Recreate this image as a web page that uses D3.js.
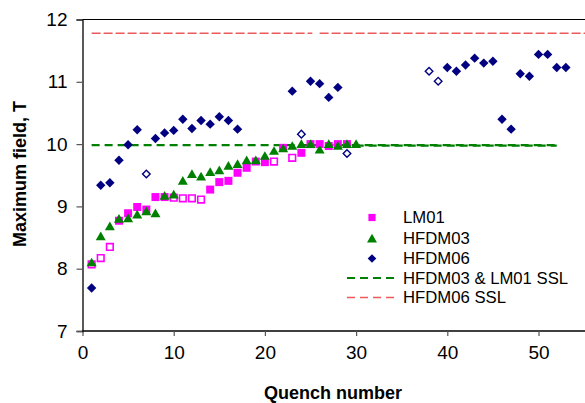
<!DOCTYPE html>
<html><head><meta charset="utf-8">
<script src="https://cdn.jsdelivr.net/npm/d3@7"></script>
<style>
html,body{margin:0;padding:0;background:#fff;}
svg{display:block;font-family:"Liberation Sans",Arial,sans-serif;}
</style></head>
<body>
<svg id="c" width="585" height="403"></svg>
<script>
// ---- data ----
const xTicks = [0, 10, 20, 30, 40, 50];
const yTicks = [7, 8, 9, 10, 11, 12];

const lm01Quench = [1,2,3,4,5,6,7,8,9,10,11,12,13,14,15,16,17,18,19,20,21,22,23,24,25,26,27,28,29];
const lm01Field  = [8.07,8.17,8.35,8.77,8.89,8.99,8.95,9.15,9.15,9.14,9.13,9.13,9.11,9.27,9.39,9.41,9.54,9.62,9.72,9.71,9.72,9.94,9.78,9.86,10.0,10.0,9.97,10.0,10.0];
const lm01Open   = [1,2,3,10,11,12,13,21,23];

const hfdm03Quench = [1,2,3,4,5,6,7,8,9,10,11,12,13,14,15,16,17,18,19,20,21,22,23,24,25,26,27,28,29,30];
const hfdm03Field  = [8.10,8.52,8.68,8.80,8.81,8.87,8.92,8.89,9.17,9.19,9.41,9.52,9.48,9.55,9.58,9.65,9.68,9.74,9.74,9.81,9.89,9.93,9.97,10.0,10.0,9.91,10.0,9.97,10.0,10.0];

const hfdm06Quench = [1,2,3,4,5,6,7,8,9,10,11,12,13,14,15,16,17,23,24,25,26,27,28,29,38,39,40,41,42,43,44,45,46,47,48,49,50,51,52,53];
const hfdm06Field  = [7.69,9.34,9.38,9.74,9.99,10.23,9.52,10.09,10.18,10.22,10.40,10.25,10.38,10.32,10.44,10.38,10.24,10.85,10.16,11.01,10.97,10.75,10.91,9.85,11.17,11.01,11.23,11.17,11.27,11.38,11.30,11.33,10.40,10.24,11.13,11.09,11.44,11.44,11.23,11.23];
const hfdm06Open   = [7,24,29,38,39];

// short sample limits (start, end quench, field)
const sslGreenSegments = [[1, 52, 9.985], [29.3, 52, 9.975]];
const sslRedSegments   = [[1, 25.2, 11.78], [26, 60, 11.78]];

const legendLabels = ["LM01", "HFDM03", "HFDM06", "HFDM03 & LM01 SSL", "HFDM06 SSL"];

// ---- chart ----
const svg = d3.select("#c");
const x = d3.scaleLinear().domain([0, 55]).range([82.5, 584.1]);
const y = d3.scaleLinear().domain([7, 12]).range([331, 19.5]);

const MAG = "#ff00ff", GRN = "#008000", NAVY = "#000080", RED = "#ee5a5a";

// top border
svg.append("line").attr("x1", x(0)).attr("x2", 585).attr("y1", y(12)).attr("y2", y(12))
  .attr("stroke", "#000").attr("stroke-width", 1.2);

// SSL lines
const line = d3.line().x(d => x(d[0])).y(d => y(d[1]));
sslRedSegments.forEach(s => {
  svg.append("path").attr("d", line([[s[0], s[2]], [s[1], s[2]]]))
    .attr("stroke", RED).attr("stroke-width", 1.5).attr("fill", "none").attr("stroke-dasharray", "9,3");
});
sslGreenSegments.forEach((s, i) => {
  svg.append("path").attr("d", line([[s[0], s[2]], [s[1], s[2]]]))
    .attr("stroke", GRN).attr("stroke-width", 2.2).attr("fill", "none")
    .attr("stroke-dasharray", "8,5").attr("stroke-dashoffset", i * 7);
});

// marker shapes
const sq = r => `M${-r},${-r}H${r}V${r}H${-r}Z`;
const tri = () => `M0,-4.8L5,3.9L-5,3.9Z`;
const dia = r => `M0,${-r}L${r},0L0,${r}L${-r},0Z`;

// LM01
lm01Quench.forEach((q, i) => {
  const open = lm01Open.includes(q);
  svg.append("path").attr("d", open ? sq(3.3) : sq(4))
    .attr("transform", `translate(${x(q)},${y(lm01Field[i])})`)
    .attr("fill", open ? "#fff" : MAG).attr("stroke", open ? MAG : "none").attr("stroke-width", 1.6);
});
// HFDM03
hfdm03Quench.forEach((q, i) => {
  svg.append("path").attr("d", tri())
    .attr("transform", `translate(${x(q)},${y(hfdm03Field[i])})`)
    .attr("fill", GRN);
});
// HFDM06
hfdm06Quench.forEach((q, i) => {
  const open = hfdm06Open.includes(q);
  svg.append("path").attr("d", open ? dia(3.8) : dia(4.7))
    .attr("transform", `translate(${x(q)},${y(hfdm06Field[i])})`)
    .attr("fill", open ? "#fff" : NAVY).attr("stroke", open ? NAVY : "none").attr("stroke-width", 1.4);
});

// axes
const xAxis = svg.append("g").attr("transform", `translate(0,${y(7)})`)
  .call(d3.axisBottom(x).tickValues(xTicks).tickFormat(d3.format("d")).tickSize(5).tickPadding(10));
const yAxis = svg.append("g").attr("transform", `translate(${x(0)},0)`)
  .call(d3.axisLeft(y).tickValues(yTicks).tickFormat(d3.format("d")).tickSize(6).tickPadding(9));
[xAxis, yAxis].forEach(g => {
  g.select(".domain").attr("stroke", "#000").attr("stroke-width", 1.3);
  g.selectAll(".tick line").attr("stroke", "#555").attr("stroke-width", 1.2);
  g.selectAll(".tick text").attr("fill", "#000").attr("font-size", 19)
    .attr("font-family", "'Liberation Sans', Arial, sans-serif");
});
xAxis.select(".domain").attr("d", `M${x(0)},0H585`);

// axis titles
svg.append("text").attr("x", 333).attr("y", 399).attr("text-anchor", "middle")
  .attr("font-size", 18).attr("font-weight", "bold").text("Quench number");
svg.append("text").attr("transform", "translate(26,174) rotate(-90)").attr("text-anchor", "middle")
  .attr("font-size", 18).attr("font-weight", "bold").text("Maximum field, T");

// legend
const lg = svg.append("g");
const lx = 372, tx = 403, ly = [217.5, 238.5, 258.5, 278, 297.5];
lg.append("path").attr("d", sq(3.6)).attr("transform", `translate(${lx},${ly[0]})`).attr("fill", MAG);
lg.append("path").attr("d", tri()).attr("transform", `translate(${lx},${ly[1]})`).attr("fill", GRN);
lg.append("path").attr("d", dia(4.3)).attr("transform", `translate(${lx},${ly[2]})`).attr("fill", NAVY);
lg.append("line").attr("x1", 347).attr("x2", 399).attr("y1", ly[3]).attr("y2", ly[3])
  .attr("stroke", GRN).attr("stroke-width", 2.2).attr("stroke-dasharray", "8,5");
lg.append("line").attr("x1", 347).attr("x2", 399).attr("y1", ly[4]).attr("y2", ly[4])
  .attr("stroke", RED).attr("stroke-width", 1.5).attr("stroke-dasharray", "8,5");
legendLabels.forEach((t, i) => {
  lg.append("text").attr("x", tx).attr("y", ly[i]).attr("dy", "0.35em")
    .attr("font-size", 16.7).attr("fill", "#000").text(t);
});
</script>
</body></html>
